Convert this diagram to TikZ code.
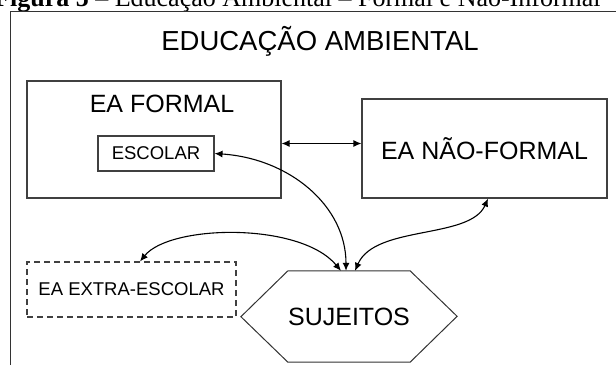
\documentclass[tikz,border=0pt]{standalone}
\usepackage{fontspec}
\setmainfont{Liberation Sans}
\newfontfamily\legendafont{Liberation Serif}
\usetikzlibrary{
    positioning,
    arrows.meta
}

\begin{document}
\begin{tikzpicture}[x=1pt, y=-1pt,
		caixa/.style={draw=black!75, line width=1.1pt, inner sep=0pt},
		seta/.style={{Latex[length=8pt,width=7pt]}-{Latex[length=8pt,width=7pt]}, line width=1.1pt},
		grande/.style={font=\fontsize{25}{30}\selectfont},
		pequena/.style={font=\fontsize{18.5}{22}\selectfont}]
		\useasboundingbox (0,0) rectangle (616,365);
		\clip (0,0) rectangle (616,365);

		% Legenda (cortada no topo, como no original)
		\node[anchor=base west, inner sep=0pt, font=\legendafont\fontsize{26}{30}\selectfont] (legenda) at (-6,6)
		{\textbf{Figura 5} – Educação Ambiental – Formal e Não-Informal};

		% Moldura
		\draw[black!80, line width=1pt] (10,365) -- (10,11) -- (616,11);

		% Titulo
		\node[font=\fontsize{27.5}{33}\selectfont] (titulo) at (320,41) {EDUCAÇÃO AMBIENTAL};

		% Caixas
		\node[caixa, minimum width=254pt, minimum height=117pt] (formal) at (154,139.5) {};
		\node[grande] (formaltxt) at (162,104) {EA FORMAL};
		\node[caixa, pequena, minimum width=116pt, minimum height=35pt] (escolar) at (156,153.5) {ESCOLAR};
		\node[caixa, grande, minimum width=245pt, minimum height=99pt] (naoformal) at (484.5,148.5) {EA NÃO-FORMAL};
		\node[caixa, pequena, dash pattern=on 6pt off 4pt, minimum width=209pt, minimum height=55pt] (extra) at (131.5,289.5) {EA EXTRA-ESCOLAR};

		% Sujeitos (hexagono)
		\node[grande, inner sep=0pt, minimum width=96pt, minimum height=91pt] (sujeitos) at (349,316.5) {SUJEITOS};
		\draw[black!80, line width=1pt] (sujeitos.north west) -- (sujeitos.north east) -- ++(47,45.5)
		-- (sujeitos.south east) -- (sujeitos.south west) -- ++(-47,-45.5) -- cycle;

		% Setas
		\draw[seta] ([yshift=-4pt]formal.east) -- ([yshift=-4pt]formal.east -| naoformal.west);
		\draw[seta] (escolar.east) .. controls +(75,5) and +(0,-65) .. ([xshift=-3pt]sujeitos.north);
		\draw[seta] ([xshift=8.5pt]extra.north) .. controls +(30,-37) and +(-41,-49) .. ([xshift=-8pt]sujeitos.north);
		\draw[seta] ([xshift=6pt]sujeitos.north) .. controls +(20,-46) and +(-18,41) .. ([xshift=3.5pt]naoformal.south);
	\end{tikzpicture}
\end{document}
